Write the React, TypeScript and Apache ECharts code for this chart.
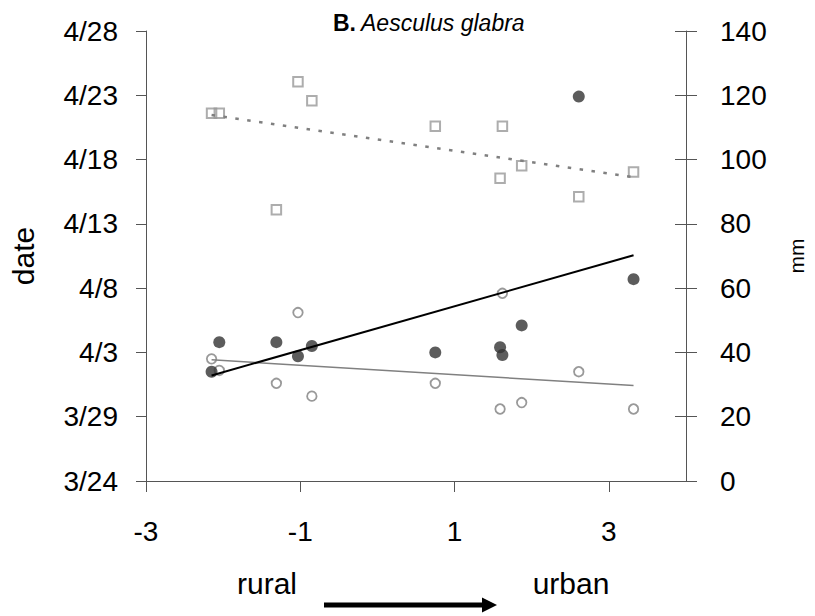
import React, { useEffect, useRef } from "react";
import * as echarts from "echarts";

// Urbanization index of each site (rural -> urban)
const urbanIndex = [-2.15, -2.05, -1.31, -1.03, -0.85, 0.75, 1.59, 1.62, 1.87, 2.61, 3.32];
// Phenology dates, as days after 3/24
const floweringDay = [8.5, 10.8, 10.8, 9.7, 10.5, 10.0, 10.4, 9.8, 12.1, 29.9, 15.7];
const leafOutDay = [9.5, 8.6, 7.6, 13.1, 6.6, 7.6, 5.6, 14.6, 6.1, 8.5, 5.6];
// Precipitation, mm
const precipitation = [114.4, 114.4, 84.4, 124.2, 118.3, 110.4, 94.2, 110.4, 98.1, 88.4, 96.1];

const xTicks = [-3, -1, 1, 3];
const FONT = "'Liberation Sans', Arial, sans-serif";

const pairs = (ys: number[]) => urbanIndex.map((x, i) => [x, ys[i]]);

// Least-squares trend line over the sites' range
function trend(ys: number[]) {
  const n = urbanIndex.length;
  const mx = urbanIndex.reduce((a, b) => a + b, 0) / n;
  const my = ys.reduce((a, b) => a + b, 0) / n;
  let sxy = 0;
  let sxx = 0;
  urbanIndex.forEach((x, i) => {
    sxy += (x - mx) * (ys[i] - my);
    sxx += (x - mx) * (x - mx);
  });
  const slope = sxy / sxx;
  const x0 = Math.min(...urbanIndex);
  const x1 = Math.max(...urbanIndex);
  return [
    [x0, my + slope * (x0 - mx)],
    [x1, my + slope * (x1 - mx)],
  ];
}

function dayLabel(v: number) {
  const d = new Date(2001, 2, 24 + v);
  return `${d.getMonth() + 1}/${d.getDate()}`;
}

const axisColor = "#555555";

export default function App() {
  const ref = useRef<HTMLDivElement>(null);

  useEffect(() => {
    document.body.style.margin = "0";
    const chart = echarts.init(ref.current!, undefined, { renderer: "svg" });
    chart.setOption({
      animation: false,
      backgroundColor: "#ffffff",
      textStyle: { fontFamily: FONT },
      title: {
        text: "{b|B.} {i|Aesculus glabra}",
        left: 333,
        top: 11,
        padding: 0,
        textStyle: {
          rich: {
            b: { fontFamily: FONT, fontSize: 23, fontWeight: "bold", color: "#000" },
            i: { fontFamily: FONT, fontSize: 23, fontWeight: "normal", fontStyle: "italic", color: "#000" },
          },
        },
      },
      grid: { left: 146, right: 118, top: 31, bottom: 135 },
      xAxis: {
        type: "value",
        min: -3,
        max: 4,
        interval: 2,
        splitLine: { show: false },
        axisLine: { onZero: false, lineStyle: { color: axisColor, width: 1 } },
        axisTick: { length: 11, lineStyle: { color: axisColor }, customValues: xTicks },
        axisLabel: {
          customValues: xTicks,
          margin: 36,
          fontSize: 28,
          color: "#000",
          fontFamily: FONT,
          formatter: (v: number) => (xTicks.includes(v) ? String(v) : ""),
        },
      },
      yAxis: [
        {
          type: "value",
          position: "left",
          min: 0,
          max: 35,
          interval: 5,
          name: "date",
          nameLocation: "middle",
          nameRotate: 90,
          nameGap: 108,
          nameTextStyle: { fontSize: 30, color: "#000", fontFamily: FONT },
          splitLine: { show: false },
          axisLine: { show: true, onZero: false, lineStyle: { color: axisColor } },
          axisTick: { show: true, length: 10, lineStyle: { color: axisColor } },
          axisLabel: { margin: 28, fontSize: 28, color: "#000", fontFamily: FONT, formatter: dayLabel },
        },
        {
          type: "value",
          position: "right",
          min: 0,
          max: 140,
          interval: 20,
          name: "mm",
          nameLocation: "middle",
          nameRotate: 90,
          nameGap: 100,
          nameTextStyle: { fontSize: 21, color: "#000", fontFamily: FONT },
          splitLine: { show: false },
          axisLine: { show: true, onZero: false, lineStyle: { color: axisColor } },
          axisTick: { show: true, length: 11, lineStyle: { color: axisColor } },
          axisLabel: { margin: 34, fontSize: 28, color: "#000", fontFamily: FONT },
        },
        {
          // inner half of the crossing ticks on the mm axis
          type: "value",
          position: "right",
          min: 0,
          max: 140,
          interval: 20,
          splitLine: { show: false },
          axisLine: { show: false, onZero: false },
          axisTick: { show: true, inside: true, length: 11, lineStyle: { color: axisColor } },
          axisLabel: { show: false },
        },
      ],
      series: [
        {
          name: "precipitation",
          type: "scatter",
          yAxisIndex: 1,
          symbol: "rect",
          symbolSize: 9.5,
          itemStyle: { color: "rgba(0,0,0,0)", borderColor: "#999999", borderWidth: 2 },
          data: pairs(precipitation),
          z: 2,
        },
        {
          name: "leaf out",
          type: "scatter",
          yAxisIndex: 0,
          symbol: "circle",
          symbolSize: 9.5,
          itemStyle: { color: "#ffffff", borderColor: "#808080", borderWidth: 1.8 },
          data: pairs(leafOutDay),
          z: 2,
        },
        {
          name: "flowering",
          type: "scatter",
          yAxisIndex: 0,
          symbol: "circle",
          symbolSize: 12,
          itemStyle: { color: "#333333" },
          data: pairs(floweringDay),
          z: 3,
        },
        {
          name: "precipitation trend",
          type: "line",
          yAxisIndex: 1,
          symbol: "none",
          lineStyle: { color: "#808080", width: 2.5, type: [3.5, 8.5] },
          data: trend(precipitation),
          z: 4,
        },
        {
          name: "leaf out trend",
          type: "line",
          yAxisIndex: 0,
          symbol: "none",
          lineStyle: { color: "#808080", width: 1.5 },
          data: trend(leafOutDay),
          z: 4,
        },
        {
          name: "flowering trend",
          type: "line",
          yAxisIndex: 0,
          symbol: "none",
          lineStyle: { color: "#000000", width: 2 },
          data: trend(floweringDay),
          z: 4,
        },
      ],
      graphic: [
        {
          type: "text",
          x: 267,
          y: 583,
          style: { text: "rural", font: `30px ${FONT}`, fill: "#000", align: "center", verticalAlign: "middle" },
        },
        {
          type: "text",
          x: 571,
          y: 583,
          style: { text: "urban", font: `30px ${FONT}`, fill: "#000", align: "center", verticalAlign: "middle" },
        },
        {
          type: "line",
          shape: { x1: 324, y1: 605, x2: 484, y2: 605 },
          style: { stroke: "#000", lineWidth: 5 },
        },
        {
          type: "polygon",
          shape: { points: [[482, 597.5], [497, 605], [482, 612.5]] },
          style: { fill: "#000" },
        },
      ],
    });
    return () => chart.dispose();
  }, []);

  return <div ref={ref} style={{ width: 815, height: 616 }} />;
}
